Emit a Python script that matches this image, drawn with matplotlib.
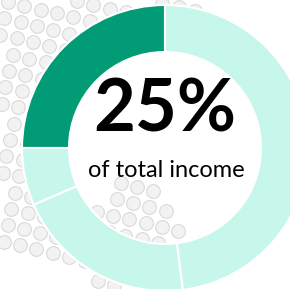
import numpy as np
import matplotlib
matplotlib.use('Agg')
import matplotlib.pyplot as plt
from matplotlib.path import Path

# share of income per slice (first one is the highlighted 25%)
shares = [25, 6.5, 20.5, 48]
colors = ['#019B76', '#C6F7EA', '#C6F7EA', '#C6F7EA']
big_label = '25%'
sub_label = 'of total income'

W, H = 290, 289
fig = plt.figure(figsize=(W / 100, H / 100), dpi=100)
ax = fig.add_axes([0, 0, 1, 1])

# dotted background texture (pixel coords, y down)
a = np.array([16.3, 3.8])
b = np.array([-3.8, 16.3])
origin = np.array([8.0, 2.0])
pts = []
for i in range(-10, 25):
    for j in range(-10, 25):
        pts.append(origin + i * a + j * b)
pts = np.array(pts)
blob = Path([(0, 0), (228, 0), (228, 6), (100, 40), (60, 100), (62, 150),
             (76, 190), (100, 200), (115, 182), (145, 178), (180, 225),
             (178, 244), (130, 262), (116, 292), (102, 292), (92, 272),
             (45, 250), (0, 258)])
keep = blob.contains_points(pts)
pts = pts[keep]
ax.scatter(pts[:, 0], H - pts[:, 1], s=98, facecolor='#f2f2f2',
           edgecolor='#dadada', linewidth=0.8, zorder=1)

cx, cy = 165, H - 148
wedges, _ = ax.pie(shares, colors=colors, startangle=90, counterclock=True,
                   center=(cx, cy), radius=143,
                   wedgeprops=dict(width=47, edgecolor='white', linewidth=1.5))
for w in wedges:
    w.set_zorder(3)

ax.text(cx, H - 111, big_label, ha='center', va='center',
        fontsize=52, fontweight='bold', family=['Lato', 'DejaVu Sans'],
        color='black', zorder=5)
ax.text(cx + 1, H - 177, sub_label, ha='center', va='baseline',
        fontsize=17, family=['Lato', 'DejaVu Sans'], color='black', zorder=5)

ax.set_xlim(0, W)
ax.set_ylim(0, H)
ax.set_aspect('auto')
ax.axis('off')
fig.savefig('out.png', dpi=100)
